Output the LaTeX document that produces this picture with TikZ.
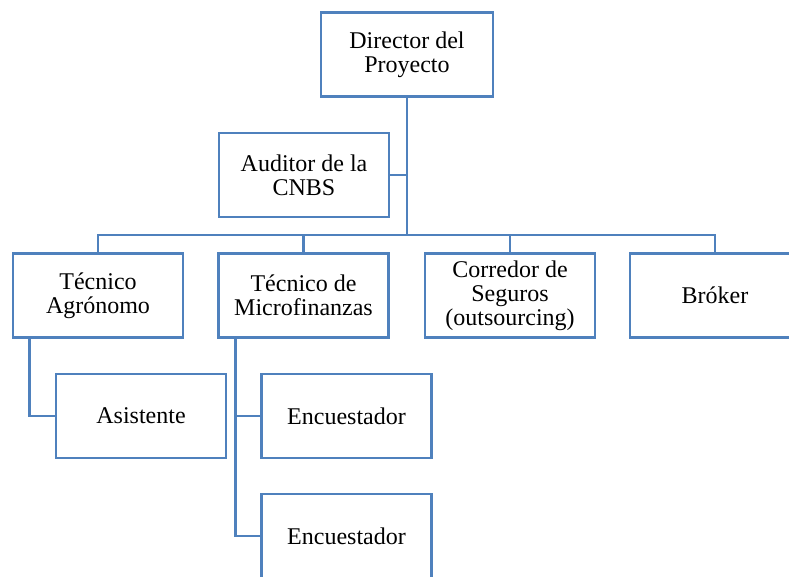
\documentclass[tikz,border=0pt]{standalone}
\usepackage{fontspec}
\setmainfont{Liberation Serif}
\usepackage{tikz}
\definecolor{azul}{HTML}{4F81BD}

\tikzset{
  puesto/.style={draw=azul, line width=2pt, fill=white, minimum width=127.5pt, minimum height=63pt,
    align=center, inner sep=0pt, font=\fontsize{18pt}{18pt}\selectfont},
  rama/.style={azul, line width=2pt}
}

\begin{document}
\begin{tikzpicture}[x=0.75pt, y=-0.75pt]
            \useasboundingbox (0,0) rectangle (789,577);
            \clip (0,0) rectangle (789,577);

            % direccion
            \node[puesto, minimum width=129pt] (dir) at (407,54.5) {Director del\\Proyecto};
            \node[puesto] (aud) at (304,175) {Auditor de la\\CNBS};
            \coordinate (bus) at (407,235);

            % segundo nivel
            \node[puesto] (agr) at (98,295.5) {T\'ecnico\\Agr\'onomo};
            \node[puesto] (mic) at (303.5,295.5) {T\'ecnico de\\Microfinanzas};
            \node[puesto] (cor) at (510,295.5) {Corredor de\\Seguros\\(outsourcing)};
            \node[puesto] (brk) at (715,295.5) {Br\'oker};

            % tercer nivel
            \node[puesto] (asi) at (141,416) {Asistente};
            \node[puesto] (enc1) at (346.5,416) {Encuestador};
            \node[puesto] (enc2) at (346.5,536) {Encuestador};

            \draw[rama] (dir.south) -- (dir.south |- bus);
            \draw[rama] (aud.east) -- (aud.east -| dir.south);
            \draw[rama] (agr.north) |- (bus) -| (brk.north);
            \foreach \n in {mic,cor} {
              \draw[rama] (\n.north) -- (\n.north |- bus);
            }
            \draw[rama] (agr.south west) ++(18,0) |- (asi.west);
            \draw[rama] (mic.south west) ++(18,0) |- (enc2.west);
            \draw[rama] (mic.south west) ++(18,0) |- (enc1.west);

          \end{tikzpicture}
\end{document}
